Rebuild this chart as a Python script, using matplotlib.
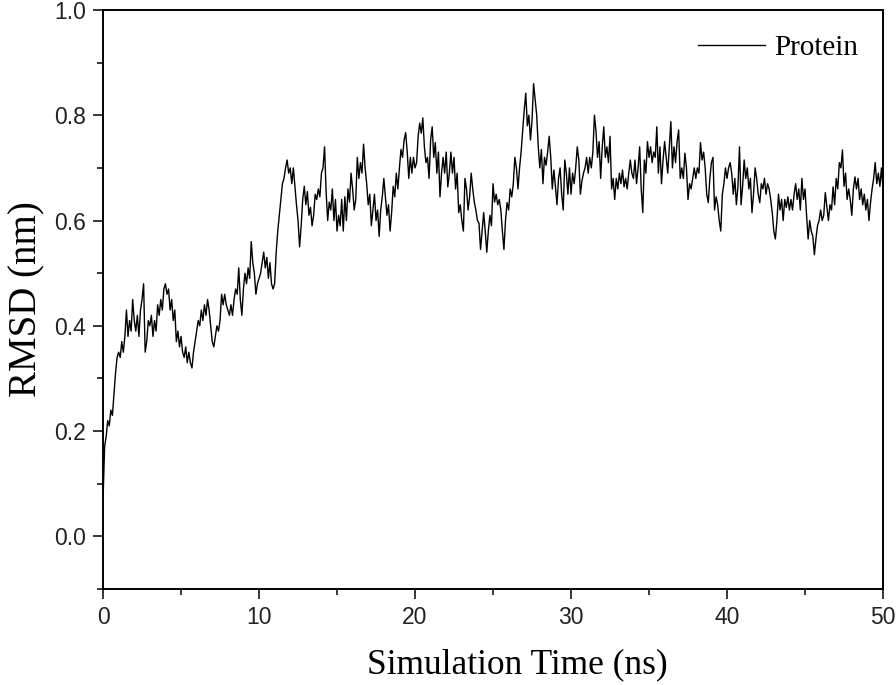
import numpy as np
import matplotlib
matplotlib.use("Agg")
import matplotlib.pyplot as plt

# RMSD (nm), one value every 0.1 ns, 0 -> 50 ns
rmsd = [
    0.07, 0.17, 0.19, 0.22, 0.21, 0.24, 0.23, 0.27, 0.31, 0.34,        # 0
    0.35, 0.34, 0.37, 0.35, 0.38, 0.43, 0.38, 0.41, 0.39, 0.45,        # 1
    0.41, 0.39, 0.42, 0.38, 0.43, 0.45, 0.48, 0.35, 0.37, 0.41,        # 2
    0.40, 0.42, 0.38, 0.41, 0.39, 0.44, 0.42, 0.45, 0.43, 0.47,        # 3
    0.48, 0.46, 0.47, 0.43, 0.45, 0.41, 0.43, 0.37, 0.39, 0.36,        # 4
    0.38, 0.35, 0.34, 0.36, 0.33, 0.35, 0.33, 0.32, 0.35, 0.37,        # 5
    0.39, 0.41, 0.40, 0.43, 0.41, 0.44, 0.42, 0.45, 0.43, 0.40,        # 6
    0.37, 0.36, 0.38, 0.40, 0.39, 0.41, 0.46, 0.44, 0.46, 0.44,        # 7
    0.43, 0.42, 0.44, 0.42, 0.45, 0.47, 0.46, 0.51, 0.45, 0.42,        # 8
    0.47, 0.50, 0.48, 0.51, 0.49, 0.56, 0.52, 0.50, 0.46, 0.48,        # 9
    0.49, 0.50, 0.52, 0.54, 0.51, 0.53, 0.49, 0.52, 0.48, 0.47,        # 10
    0.48, 0.54, 0.58, 0.61, 0.64, 0.67, 0.68, 0.70, 0.715, 0.69,       # 11
    0.70, 0.67, 0.70, 0.665, 0.63, 0.60, 0.55, 0.59, 0.64, 0.665,      # 12
    0.63, 0.655, 0.61, 0.625, 0.59, 0.61, 0.65, 0.64, 0.66, 0.645,     # 13
    0.69, 0.70, 0.74, 0.655, 0.60, 0.635, 0.62, 0.66, 0.60, 0.64,      # 14
    0.58, 0.61, 0.59, 0.64, 0.58, 0.645, 0.60, 0.66, 0.635, 0.69,      # 15
    0.66, 0.62, 0.64, 0.72, 0.68, 0.71, 0.69, 0.745, 0.70, 0.67,       # 16
    0.63, 0.65, 0.59, 0.62, 0.65, 0.60, 0.62, 0.57, 0.62, 0.645,       # 17
    0.68, 0.645, 0.61, 0.63, 0.58, 0.615, 0.665, 0.645, 0.69, 0.66,    # 18
    0.70, 0.735, 0.72, 0.753, 0.767, 0.73, 0.68, 0.72, 0.69, 0.72,     # 19
    0.70, 0.71, 0.76, 0.785, 0.766, 0.795, 0.74, 0.71, 0.72, 0.68,     # 20
    0.753, 0.778, 0.72, 0.748, 0.69, 0.73, 0.645, 0.69, 0.72, 0.69,    # 21
    0.73, 0.664, 0.69, 0.73, 0.69, 0.72, 0.66, 0.69, 0.615, 0.63,      # 22
    0.60, 0.58, 0.68, 0.66, 0.62, 0.645, 0.69, 0.66, 0.635, 0.62,      # 23
    0.60, 0.595, 0.545, 0.58, 0.615, 0.58, 0.54, 0.58, 0.61, 0.59,     # 24
    0.67, 0.635, 0.65, 0.63, 0.64, 0.62, 0.58, 0.545, 0.60, 0.634,     # 25
    0.62, 0.66, 0.645, 0.67, 0.72, 0.70, 0.66, 0.70, 0.73, 0.77,       # 26
    0.81, 0.842, 0.78, 0.80, 0.753, 0.79, 0.86, 0.83, 0.80, 0.74,      # 27
    0.70, 0.735, 0.67, 0.72, 0.705, 0.73, 0.76, 0.72, 0.66, 0.696,     # 28
    0.665, 0.63, 0.68, 0.70, 0.65, 0.62, 0.715, 0.69, 0.65, 0.70,      # 29
    0.65, 0.69, 0.67, 0.70, 0.74, 0.715, 0.65, 0.675, 0.69, 0.70,      # 30
    0.72, 0.69, 0.72, 0.70, 0.73, 0.80, 0.77, 0.72, 0.75, 0.68,        # 31
    0.74, 0.778, 0.72, 0.74, 0.71, 0.76, 0.66, 0.68, 0.64, 0.68,       # 32
    0.66, 0.69, 0.67, 0.696, 0.664, 0.68, 0.66, 0.69, 0.715, 0.69,     # 33
    0.68, 0.715, 0.67, 0.70, 0.74, 0.66, 0.615, 0.715, 0.69, 0.75,     # 34
    0.72, 0.74, 0.71, 0.73, 0.72, 0.778, 0.69, 0.74, 0.67, 0.715,      # 35
    0.75, 0.72, 0.69, 0.74, 0.788, 0.70, 0.74, 0.71, 0.75, 0.772,      # 36
    0.68, 0.70, 0.68, 0.728, 0.70, 0.64, 0.67, 0.66, 0.68, 0.70,       # 37
    0.68, 0.70, 0.69, 0.748, 0.715, 0.73, 0.70, 0.65, 0.634, 0.68,     # 38
    0.71, 0.72, 0.62, 0.645, 0.63, 0.60, 0.58, 0.65, 0.67, 0.70,       # 39
    0.68, 0.70, 0.71, 0.69, 0.65, 0.68, 0.63, 0.665, 0.74, 0.63,       # 40
    0.665, 0.715, 0.68, 0.70, 0.66, 0.68, 0.615, 0.65, 0.70, 0.68,     # 41
    0.65, 0.634, 0.67, 0.66, 0.68, 0.65, 0.67, 0.66, 0.64, 0.615,      # 42
    0.58, 0.565, 0.60, 0.65, 0.62, 0.64, 0.60, 0.64, 0.625, 0.645,     # 43
    0.62, 0.64, 0.62, 0.65, 0.67, 0.64, 0.66, 0.62, 0.68, 0.64,        # 44
    0.66, 0.61, 0.565, 0.60, 0.58, 0.57, 0.535, 0.565, 0.59, 0.60,     # 45
    0.62, 0.60, 0.61, 0.653, 0.626, 0.60, 0.63, 0.62, 0.664, 0.63,     # 46
    0.68, 0.66, 0.71, 0.70, 0.734, 0.665, 0.69, 0.64, 0.66, 0.64,      # 47
    0.61, 0.66, 0.683, 0.66, 0.68, 0.64, 0.66, 0.63, 0.65, 0.62,       # 48
    0.64, 0.60, 0.634, 0.66, 0.68, 0.71, 0.67, 0.69, 0.665, 0.70,      # 49
    0.66,                                                              # 50
]
time_ns = np.linspace(0, 50, len(rmsd))

x_ticks = [0, 10, 20, 30, 40, 50]
y_ticks = [0.0, 0.2, 0.4, 0.6, 0.8, 1.0]

serif = ["Liberation Serif", "DejaVu Serif"]
sans = ["Liberation Sans", "DejaVu Sans"]

fig = plt.figure(figsize=(8.96, 6.85), dpi=100)
ax = fig.add_axes([0.115, 0.140, 0.8705, 0.8455])

ax.plot(time_ns, rmsd, color="black", lw=1.0, label="Protein")

ax.set_xlim(0, 50)
ax.set_ylim(-0.1, 1.0)
ax.set_xticks(x_ticks)
ax.set_yticks(y_ticks)
ax.set_xticks([5, 15, 25, 35, 45], minor=True)
ax.set_yticks([-0.1, 0.1, 0.3, 0.5, 0.7, 0.9], minor=True)
ax.set_yticklabels([f"{v:.1f}" for v in y_ticks])
ax.tick_params(which="major", direction="out", length=7.5, width=1.1,
               labelsize=16.5, pad=5)
ax.tick_params(which="minor", direction="out", length=4.2, width=1.1)
for lab in ax.get_xticklabels() + ax.get_yticklabels():
    lab.set_fontfamily(sans)
    lab.set_color("#222222")
for s in ax.spines.values():
    s.set_linewidth(1.4)

ax.set_xlabel("Simulation Time (ns)", fontsize=25.5, family=serif)
ax.set_ylabel("RMSD (nm)", fontsize=28, family=serif)
ax.xaxis.set_label_coords(0.531, -0.102)
ax.yaxis.set_label_coords(-0.074, 0.5)

ax.legend(loc="upper right", frameon=False, prop={"family": serif, "size": 21},
          handlelength=2.3, handletextpad=0.3, borderaxespad=0.45)

fig.savefig("out.png", dpi=100)
